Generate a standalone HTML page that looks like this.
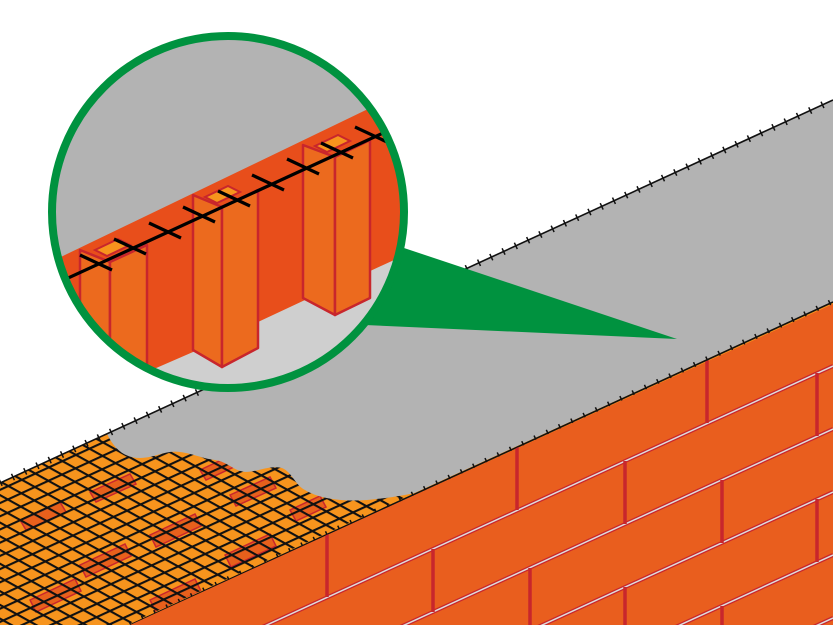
<!DOCTYPE html>
<html><head><meta charset="utf-8"><style>html,body{margin:0;padding:0;background:#fff;overflow:hidden}svg{display:block}</style></head>
<body>
<svg width="833" height="625" viewBox="0 0 833 625" xmlns="http://www.w3.org/2000/svg">
<defs>
<pattern id="m1" width="12" height="12" patternUnits="userSpaceOnUse" patternTransform="rotate(-24.7)">
<line x1="0" y1="1" x2="12" y2="1" stroke="#111" stroke-width="2.2"/></pattern>
<pattern id="m2" width="12" height="12" patternUnits="userSpaceOnUse" patternTransform="rotate(29)">
<line x1="0" y1="1" x2="12" y2="1" stroke="#111" stroke-width="2.2"/></pattern>
<clipPath id="top"><polygon points="0,483 833,100 833,303 0,684"/></clipPath>
<clipPath id="front"><polygon points="130,625 833,303 833,625"/></clipPath>
<clipPath id="circ"><circle cx="228" cy="212" r="176"/></clipPath>
</defs>

<polygon points="0,483 833,100 833,303 0,684" fill="#f7941d"/>
<g clip-path="url(#top)" fill="#e8601c" stroke="#c8262c" stroke-width="1.5">
<polygon points="20,520 60,502 66,512 26,530"/>
<polygon points="90,492 130,474 136,484 96,502"/>
<polygon points="150,535 195,514 201,526 156,547"/>
<polygon points="80,565 125,544 131,556 86,577"/>
<polygon points="30,600 75,579 81,591 36,612"/>
<polygon points="150,600 195,579 201,591 156,612"/>
<polygon points="225,555 270,534 276,546 231,567"/>
<polygon points="230,495 270,477 276,488 236,506"/>
<polygon points="290,510 320,496 326,507 296,521"/>
<polygon points="200,470 230,456 236,466 206,480"/>
</g>
<g clip-path="url(#top)">
<rect x="0" y="80" width="833" height="620" fill="url(#m1)"/>
<rect x="0" y="80" width="833" height="620" fill="url(#m2)"/>
</g>

<path d="M107,434 C115,450 125,458 140,458 C155,458 165,450 180,452 C195,454 200,458 215,460 C228,462 232,470 245,472 C258,472 268,465 282,468 C292,472 295,485 305,490 C318,498 340,502 367,500 C390,498 405,495 420,492 L833,303 L833,100 Z" fill="#b3b3b3"/>

<line x1="0" y1="483" x2="833" y2="100" stroke="#111" stroke-width="1.6"/>
<line x1="0" y1="483" x2="833" y2="100" stroke="#111" stroke-width="7" stroke-dasharray="1.5 12"/>
<line x1="130" y1="625" x2="833" y2="303" stroke="#f7941d" stroke-width="3"/>
<line x1="130" y1="625" x2="833" y2="302" stroke="#111" stroke-width="1.6"/>
<line x1="130" y1="625" x2="833" y2="302" stroke="#111" stroke-width="7" stroke-dasharray="1.5 12"/>

<polygon points="130,625 833,304 833,625" fill="#e95e1e"/>
<g clip-path="url(#front)">
<g stroke="#c8262c" stroke-width="4" fill="none">
<line x1="0" y1="747" x2="833" y2="366"/>
<line x1="0" y1="810" x2="833" y2="429"/>
<line x1="0" y1="873" x2="833" y2="492"/>
<line x1="0" y1="936" x2="833" y2="555"/>
<line x1="0" y1="999" x2="833" y2="618"/>
</g>
<g stroke="#ddd" stroke-width="1.5" fill="none">
<line x1="0" y1="747" x2="833" y2="366"/>
<line x1="0" y1="810" x2="833" y2="429"/>
<line x1="0" y1="873" x2="833" y2="492"/>
<line x1="0" y1="936" x2="833" y2="555"/>
<line x1="0" y1="999" x2="833" y2="618"/>
</g>
<g stroke="#c8262c" stroke-width="3.5" fill="none">
<line x1="327" y1="534" x2="327" y2="597"/>
<line x1="517" y1="447" x2="517" y2="510"/>
<line x1="707" y1="360" x2="707" y2="423"/>
<line x1="433" y1="549" x2="433" y2="612"/>
<line x1="625" y1="461" x2="625" y2="524"/>
<line x1="817" y1="373" x2="817" y2="436"/>
<line x1="338" y1="656" x2="338" y2="719"/>
<line x1="530" y1="568" x2="530" y2="631"/>
<line x1="722" y1="480" x2="722" y2="543"/>
<line x1="625" y1="587" x2="625" y2="650"/>
<line x1="817" y1="499" x2="817" y2="562"/>
<line x1="722" y1="606" x2="722" y2="669"/>
</g>
</g>

<polygon points="300,250 395,245 677,339 365,325 300,300" fill="#00923f"/>

<g clip-path="url(#circ)">
<rect x="40" y="30" width="380" height="370" fill="#b3b3b3"/>
<polygon points="40,360 420,190 420,400 40,400" fill="#cfcfcf"/>
<polygon points="40,267 420,84 420,248 368,272 305,300 258,322 193,352 147,372 147,420 40,420" fill="#e84e1b"/>
<g fill="#ec6a1e" stroke="#c8262c" stroke-width="2.5" stroke-linejoin="round">
<polygon points="80,250 110,262 110,430 80,415"/>
<polygon points="110,262 147,245 147,430 110,430"/>
<polygon points="193,195 222,207 222,367 193,350"/>
<polygon points="222,207 258,190 258,348 222,367"/>
<polygon points="303,145 335,157 335,315 303,298"/>
<polygon points="335,157 370,140 370,298 335,315"/>
</g>
<g fill="#f7941d" stroke="#c8262c" stroke-width="2">
<polygon points="95,250 118,239 130,245 107,256"/>
<polygon points="205,197 228,186 240,192 217,203"/>
<polygon points="315,146 338,135 350,141 327,152"/>
</g>
<line x1="40" y1="291" x2="420" y2="116" stroke="#000" stroke-width="3.2"/>
<g stroke="#000" stroke-width="3.2">
<line x1="80" y1="255" x2="112" y2="270"/>
<line x1="114" y1="239" x2="146" y2="254"/>
<line x1="149" y1="223" x2="181" y2="238"/>
<line x1="183" y1="207" x2="215" y2="222"/>
<line x1="218" y1="191" x2="250" y2="206"/>
<line x1="252" y1="175" x2="284" y2="190"/>
<line x1="287" y1="159" x2="319" y2="174"/>
<line x1="321" y1="143" x2="353" y2="158"/>
<line x1="355" y1="127" x2="387" y2="142"/>
</g>
</g>
<circle cx="228" cy="212" r="176" fill="none" stroke="#00923f" stroke-width="8"/>
</svg>
</body></html>
